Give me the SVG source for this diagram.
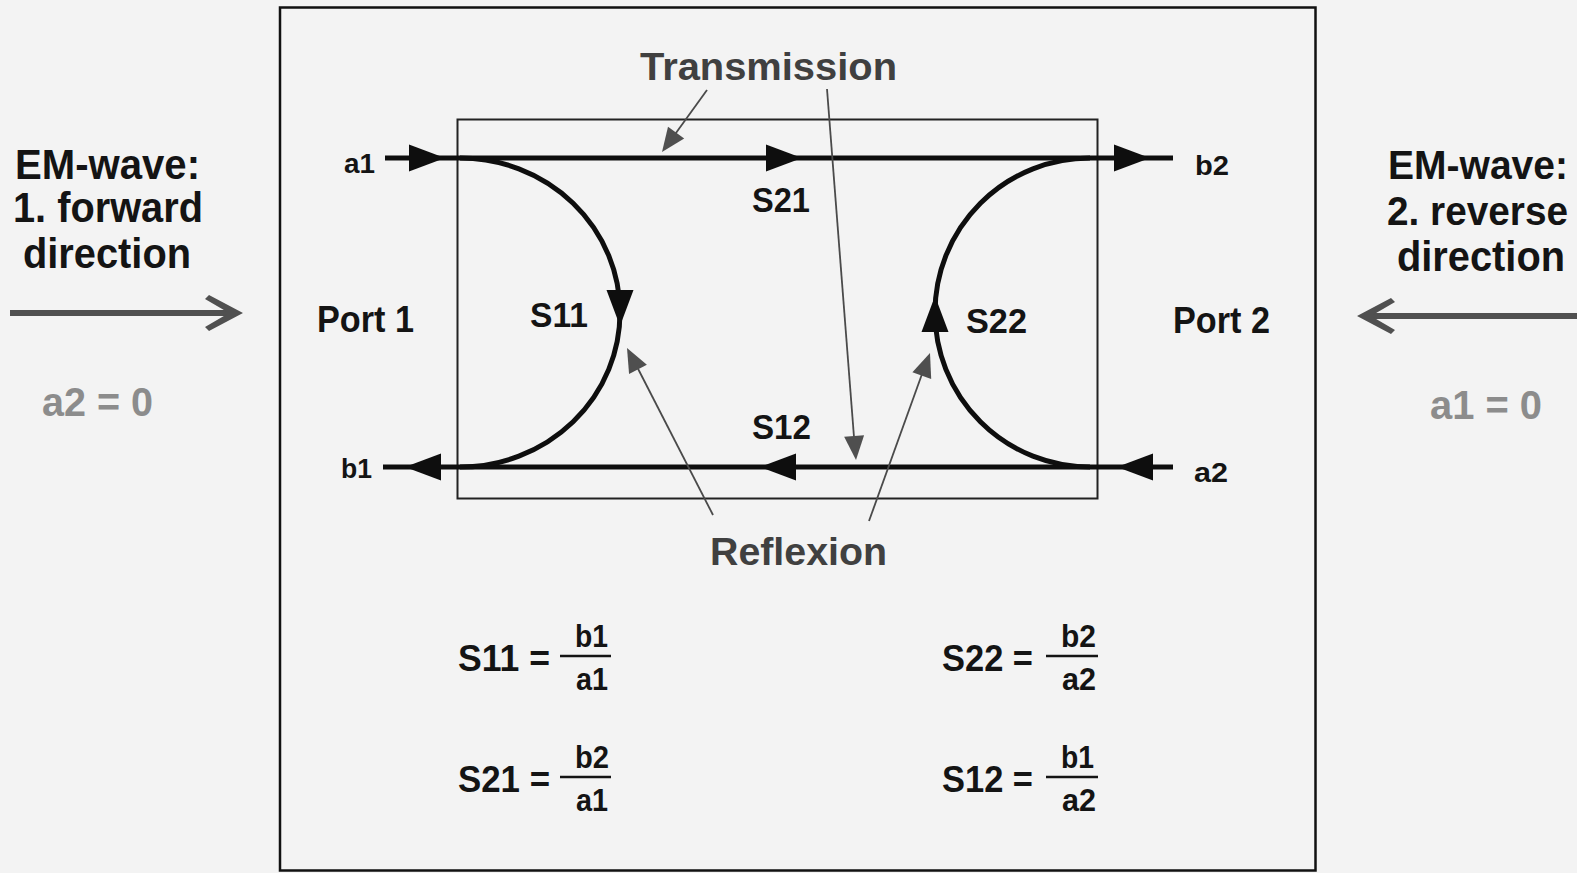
<svg xmlns="http://www.w3.org/2000/svg" xmlns:xlink="http://www.w3.org/1999/xlink" width="1577" height="873" viewBox="0 0 1577 873">
<style>
  .t { font-family: "Liberation Sans", Arial, sans-serif; font-weight: bold; fill: #141414; }
  .ann { font-family: "Liberation Sans", Arial, sans-serif; font-weight: bold; fill: #404040; }
  .zero { font-family: "Liberation Sans", Arial, sans-serif; font-weight: bold; fill: #8c8c8c; }
  .main { stroke: #0e0e0e; stroke-width: 5; fill: none; }
  .thin { stroke: #4a4a4a; stroke-width: 1.8; fill: none; }
  .box { stroke: #222; stroke-width: 2; fill: none; }
  .frac { stroke: #141414; stroke-width: 2.5; }
  .big { stroke: #505050; stroke-width: 6; fill: none; }
</style>
<defs>
  <path id="ah" d="M0,0 L-36,-13.5 L-36,13.5 Z" fill="#0e0e0e"/>
  <path id="gh" d="M0,0 L-24,-10 L-24,10 Z" fill="#4f4f4f"/>
</defs>
<rect width="1577" height="873" fill="#f3f3f3"/>

<g id="frame">
  <rect x="280" y="7.5" width="1035.5" height="863" fill="none" stroke="#111" stroke-width="2.5"/>
</g>

<g id="twoport">
  <rect class="box" x="457.5" y="119.5" width="640" height="379"/>
</g>

<g id="connectors">
  <line class="main" x1="385" y1="158" x2="1173" y2="158"/>
  <line class="main" x1="383" y1="467" x2="1173" y2="467"/>
  <path class="main" d="M 460 158 A 160 154.5 0 0 1 460 467"/>
  <path class="main" d="M 1090 158 A 155 154.5 0 0 0 1090 467"/>
  <use xlink:href="#ah" transform="translate(445,158)"/>
  <use xlink:href="#ah" transform="translate(802,158)"/>
  <use xlink:href="#ah" transform="translate(1150,158)"/>
  <use xlink:href="#ah" transform="translate(405,467) rotate(180)"/>
  <use xlink:href="#ah" transform="translate(760,467) rotate(180)"/>
  <use xlink:href="#ah" transform="translate(1117,467) rotate(180)"/>
  <use xlink:href="#ah" transform="translate(620,326) rotate(90)"/>
  <use xlink:href="#ah" transform="translate(935,296) rotate(-90)"/>

  <line class="thin" x1="707" y1="90" x2="668" y2="144"/>
  <use xlink:href="#gh" transform="translate(662,152) rotate(126)"/>
  <line class="thin" x1="827" y1="89" x2="855" y2="450"/>
  <use xlink:href="#gh" transform="translate(856,460) rotate(85.5)"/>
  <line class="thin" x1="713" y1="515" x2="632" y2="357"/>
  <use xlink:href="#gh" transform="translate(627,348) rotate(-117.2)"/>
  <line class="thin" x1="869" y1="521" x2="926" y2="363"/>
  <use xlink:href="#gh" transform="translate(930,353) rotate(-70)"/>

  <line class="big" x1="10" y1="313" x2="232" y2="313"/>
  <polygon points="243,313 209,295 205,299 229,313 205,327 209,331" fill="#505050"/>
  <line class="big" x1="1368" y1="316" x2="1577" y2="316"/>
  <polygon points="1357,316 1391,298 1395,302 1371,316 1395,330 1391,334" fill="#505050"/>
</g>

<g id="labels">
  <text class="t" x="344" y="173" font-size="28" textLength="31" lengthAdjust="spacingAndGlyphs">a1</text>
  <text class="t" x="341" y="478" font-size="28" textLength="31" lengthAdjust="spacingAndGlyphs">b1</text>
  <text class="t" x="1195" y="175" font-size="28" textLength="34" lengthAdjust="spacingAndGlyphs">b2</text>
  <text class="t" x="1194" y="482" font-size="28" textLength="34" lengthAdjust="spacingAndGlyphs">a2</text>
  <text class="t" x="752" y="212" font-size="35" textLength="58" lengthAdjust="spacingAndGlyphs">S21</text>
  <text class="t" x="530" y="327" font-size="35" textLength="58" lengthAdjust="spacingAndGlyphs">S11</text>
  <text class="t" x="752" y="439" font-size="35" textLength="59" lengthAdjust="spacingAndGlyphs">S12</text>
  <text class="t" x="966" y="333" font-size="35" textLength="61" lengthAdjust="spacingAndGlyphs">S22</text>
  <text class="t" x="317" y="332" font-size="37" textLength="97" lengthAdjust="spacingAndGlyphs">Port 1</text>
  <text class="t" x="1173" y="333" font-size="37" textLength="97" lengthAdjust="spacingAndGlyphs">Port 2</text>
  <text class="ann" x="640" y="80" font-size="39" textLength="257" lengthAdjust="spacingAndGlyphs">Transmission</text>
  <text class="ann" x="710" y="565" font-size="38" textLength="177" lengthAdjust="spacingAndGlyphs">Reflexion</text>
</g>

<g id="left-source">
  <text class="t" x="15" y="179" font-size="42" textLength="185" lengthAdjust="spacingAndGlyphs">EM-wave:</text>
  <text class="t" x="13" y="222" font-size="42" textLength="190" lengthAdjust="spacingAndGlyphs">1. forward</text>
  <text class="t" x="23" y="268" font-size="42" textLength="168" lengthAdjust="spacingAndGlyphs">direction</text>
  <text class="zero" x="42" y="416" font-size="40" textLength="111" lengthAdjust="spacingAndGlyphs">a2 = 0</text>
</g>

<g id="right-source">
  <text class="t" x="1388" y="179" font-size="40" textLength="180" lengthAdjust="spacingAndGlyphs">EM-wave:</text>
  <text class="t" x="1387" y="225" font-size="40" textLength="181" lengthAdjust="spacingAndGlyphs">2. reverse</text>
  <text class="t" x="1397" y="271" font-size="42" textLength="168" lengthAdjust="spacingAndGlyphs">direction</text>
  <text class="zero" x="1430" y="419" font-size="40" textLength="112" lengthAdjust="spacingAndGlyphs">a1 = 0</text>
</g>

<g id="formulas">
  <text class="t" x="458" y="671" font-size="37" textLength="92" lengthAdjust="spacingAndGlyphs">S11 =</text>
  <line class="frac" x1="560" y1="656" x2="611" y2="656"/>
  <text class="t" x="575" y="647" font-size="32" textLength="33" lengthAdjust="spacingAndGlyphs">b1</text>
  <text class="t" x="576" y="690" font-size="32" textLength="32" lengthAdjust="spacingAndGlyphs">a1</text>

  <text class="t" x="942" y="671" font-size="37" textLength="91" lengthAdjust="spacingAndGlyphs">S22 =</text>
  <line class="frac" x1="1046" y1="656" x2="1098" y2="656"/>
  <text class="t" x="1061" y="647" font-size="32" textLength="35" lengthAdjust="spacingAndGlyphs">b2</text>
  <text class="t" x="1062" y="690" font-size="32" textLength="34" lengthAdjust="spacingAndGlyphs">a2</text>

  <text class="t" x="458" y="792" font-size="37" textLength="92" lengthAdjust="spacingAndGlyphs">S21 =</text>
  <line class="frac" x1="560" y1="777" x2="611" y2="777"/>
  <text class="t" x="575" y="768" font-size="32" textLength="34" lengthAdjust="spacingAndGlyphs">b2</text>
  <text class="t" x="576" y="811" font-size="32" textLength="32" lengthAdjust="spacingAndGlyphs">a1</text>

  <text class="t" x="942" y="792" font-size="37" textLength="91" lengthAdjust="spacingAndGlyphs">S12 =</text>
  <line class="frac" x1="1046" y1="777" x2="1098" y2="777"/>
  <text class="t" x="1061" y="768" font-size="32" textLength="33" lengthAdjust="spacingAndGlyphs">b1</text>
  <text class="t" x="1062" y="811" font-size="32" textLength="34" lengthAdjust="spacingAndGlyphs">a2</text>
</g>
</svg>
